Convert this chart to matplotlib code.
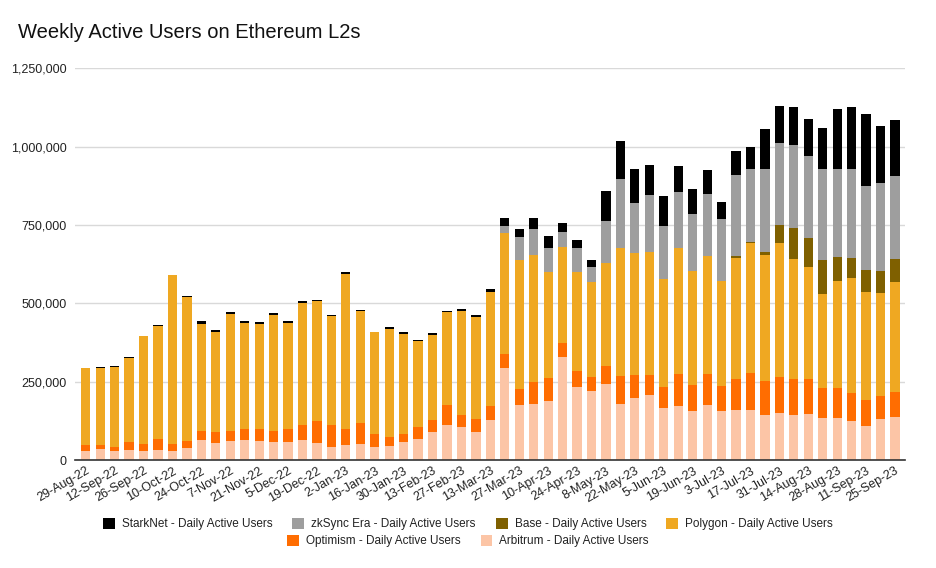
#!/usr/bin/env python3
"""
Weekly Active Users on Ethereum L2s - stacked weekly bars.
"""
import numpy as np
import matplotlib.pyplot as plt
import matplotlib.ticker as ticker
from matplotlib.patches import Patch

plt.rcParams['font.family'] = ['Liberation Sans', 'DejaVu Sans']

# Tick labels (every second week)
tick_labels = ['29-Aug-22', '12-Sep-22', '26-Sep-22', '10-Oct-22', '24-Oct-22',
               '7-Nov-22', '21-Nov-22', '5-Dec-22', '19-Dec-22', '2-Jan-23',
               '16-Jan-23', '30-Jan-23', '13-Feb-23', '27-Feb-23', '13-Mar-23',
               '27-Mar-23', '10-Apr-23', '24-Apr-23', '8-May-23', '22-May-23',
               '5-Jun-23', '19-Jun-23', '3-Jul-23', '17-Jul-23', '31-Jul-23',
               '14-Aug-23', '28-Aug-23', '11-Sep-23', '25-Sep-23']

# Weekly values, thousands of users (29-Aug-22 .. 25-Sep-23)
arbitrum = [29, 34, 29, 32, 29, 32, 29, 37, 63, 54, 61, 63, 61, 58, 58, 63, 54, 42, 48, 51,
            42, 46, 58, 67, 90, 112, 106, 90, 127, 294, 175, 179, 187, 328, 234, 219, 244, 178,
            198, 207, 166, 172, 158, 177, 156, 160, 160, 143, 151, 143, 146, 134, 134, 126,
            108, 130, 137]
optimism = [19, 14, 13, 26, 22, 35, 22, 24, 30, 35, 32, 35, 39, 35, 40, 48, 70, 69, 52, 66,
            41, 28, 25, 39, 37, 63, 37, 40, 46, 45, 51, 70, 76, 46, 50, 46, 56, 89,
            73, 64, 67, 104, 80, 99, 81, 100, 118, 109, 114, 115, 112, 97, 97, 88,
            83, 74, 80]
polygon = [246, 245, 255, 268, 345, 361, 540, 460, 342, 320, 374, 340, 335, 371, 338, 390, 384,
           348, 494, 358, 324, 345, 320, 274, 271, 298, 334, 326, 364, 386, 413, 406, 337, 306,
           316, 303, 329, 408, 390, 393, 345, 399, 366, 375, 334, 386, 413, 403, 428, 384,
           358, 299, 340, 368, 346, 329, 351]
base = [0] * 45 + [5, 5, 9, 57, 99, 93, 108, 77, 62, 69, 70, 74]
zksync = [0] * 29 + [23, 71, 81, 75, 49, 75, 49, 134, 222, 160, 181, 170, 180, 182, 199, 199,
                     257, 231, 263, 260, 263, 260, 289, 279, 285, 267, 282, 265]
starknet = [0, 4, 3, 3, 1, 3, 0, 3, 8, 5, 5, 5, 6, 5, 6, 6, 4, 5, 6, 5, 3, 5, 4, 4, 7, 3, 4, 6,
            10, 25, 28, 37, 39, 27, 28, 21, 96, 121, 107, 97, 94, 84, 79, 76, 53, 77, 73, 130,
            120, 123, 118, 132, 194, 197, 230, 181, 178]

series = [
    ('Arbitrum - Daily Active Users', arbitrum, '#FCC5A6'),
    ('Optimism - Daily Active Users', optimism, '#FF6D01'),
    ('Polygon - Daily Active Users', polygon, '#EFA822'),
    ('Base - Daily Active Users', base, '#7F6000'),
    ('zkSync Era - Daily Active Users', zksync, '#9E9E9E'),
    ('StarkNet - Daily Active Users', starknet, '#000000'),
]

fig = plt.figure(figsize=(9.36, 5.68), dpi=100)
ax = fig.add_axes([0.08, 0.19, 0.887, 0.69])

x = np.arange(len(arbitrum))
bottom = np.zeros(len(x))
handles = {}
for name, vals, color in series:
    v = np.array(vals) * 1000.0
    ax.bar(x, v, bottom=bottom, width=0.64, color=color, linewidth=0, zorder=3)
    bottom += v
    handles[name] = Patch(facecolor=color, edgecolor='none')

ax.set_ylim(0, 1250000)
ax.set_xlim(-0.75, len(x) - 0.3)
ax.yaxis.set_major_locator(ticker.MultipleLocator(250000))
ax.yaxis.set_major_formatter(ticker.StrMethodFormatter('{x:,.0f}'))
ax.grid(True, axis='y', color='#d9d9d9', linewidth=1, zorder=0)
for s in ['top', 'right', 'left']:
    ax.spines[s].set_visible(False)
ax.spines['bottom'].set_color('#333333')
ax.spines['bottom'].set_linewidth(1.2)
ax.spines['bottom'].set_zorder(4)
ax.tick_params(axis='both', length=0, labelsize=9, colors='#222222')
ax.tick_params(axis='y', pad=6)

ax.set_xticks(x[::2])
ax.set_xticklabels(tick_labels, rotation=30, ha='right', rotation_mode='anchor')

fig.text(0.019, 0.942, 'Weekly Active Users on Ethereum L2s', fontsize=14.5, color='#111111',
         va='center', ha='left')

row1 = ['StarkNet - Daily Active Users', 'zkSync Era - Daily Active Users',
        'Base - Daily Active Users', 'Polygon - Daily Active Users']
row2 = ['Optimism - Daily Active Users', 'Arbitrum - Daily Active Users']
common = dict(frameon=False, fontsize=8.5, handlelength=1.0, handleheight=1.0,
              handletextpad=0.6, columnspacing=1.7, borderpad=0, labelcolor='#222222')
fig.legend([handles[n] for n in row1], row1, ncol=4, loc='center',
           bbox_to_anchor=(0.5, 0.077), **common)
fig.legend([handles[n] for n in row2], row2, ncol=2, loc='center',
           bbox_to_anchor=(0.5, 0.047), **common)

plt.savefig('out.png', dpi=100)
